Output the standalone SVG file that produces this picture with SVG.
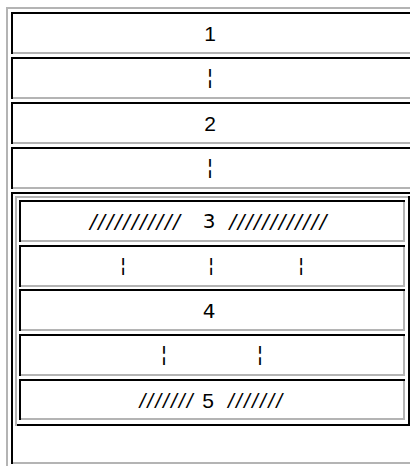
<svg xmlns="http://www.w3.org/2000/svg" width="410" height="466" viewBox="0 0 410 466">
<style>
.lt{fill:#b4b4b4}
.dk{fill:#000}
.a{font-family:"Liberation Sans",Arial,sans-serif;font-size:21px;fill:#000;text-anchor:middle}
.d{font-family:"DejaVu Sans",sans-serif;font-size:20px;fill:#000;text-anchor:middle}
.i{font-style:italic}
</style>
<rect width="410" height="466" fill="#fff"/>
<g id="outer-table">
<rect class="lt" x="6" y="7" width="404" height="2"/>
<rect class="lt" x="6" y="7" width="2" height="459"/>
</g>
<g id="row1">
<rect class="dk" x="11" y="12" width="399" height="2"/>
<rect class="dk" x="11" y="12" width="2" height="42"/>
<rect class="lt" x="13" y="52" width="397" height="2"/>
<text class="a" x="210" y="41">1</text>
</g>
<g id="row2">
<rect class="dk" x="11" y="57" width="399" height="2"/>
<rect class="dk" x="11" y="57" width="2" height="42"/>
<rect class="lt" x="13" y="97" width="397" height="2"/>
<text class="a" x="210" y="84">¦</text>
</g>
<g id="row3">
<rect class="dk" x="11" y="102" width="399" height="2"/>
<rect class="dk" x="11" y="102" width="2" height="42"/>
<rect class="lt" x="13" y="142" width="397" height="2"/>
<text class="a" x="210" y="131">2</text>
</g>
<g id="row4">
<rect class="dk" x="11" y="147" width="399" height="2"/>
<rect class="dk" x="11" y="147" width="2" height="42"/>
<rect class="lt" x="13" y="187" width="397" height="2"/>
<text class="a" x="210" y="174">¦</text>
</g>
<g id="row5">
<rect class="dk" x="11" y="192" width="399" height="2"/>
<rect class="dk" x="11" y="192" width="2" height="272"/>
<rect class="lt" x="13" y="462" width="397" height="2"/>
</g>
<g id="nested-table">
<rect class="lt" x="15" y="196" width="393" height="2"/>
<rect class="lt" x="15" y="196" width="2" height="230"/>
<rect class="dk" x="408" y="196" width="2" height="230"/>
<rect class="dk" x="17" y="424" width="393" height="2"/>
</g>
<g id="n1">
<rect class="dk" x="19" y="200" width="386" height="2"/>
<rect class="dk" x="19" y="200" width="2" height="42"/>
<rect class="lt" x="21" y="240" width="384" height="2"/>
<rect class="lt" x="403" y="202" width="2" height="40"/>
<text class="d i" x="135" y="228" textLength="90" lengthAdjust="spacing">///////////</text>
<text class="d" x="209" y="228">3</text>
<text class="d i" x="278" y="228" textLength="97" lengthAdjust="spacing">////////////</text>
</g>
<g id="n2">
<rect class="dk" x="19" y="245" width="386" height="2"/>
<rect class="dk" x="19" y="245" width="2" height="42"/>
<rect class="lt" x="21" y="285" width="384" height="2"/>
<rect class="lt" x="403" y="247" width="2" height="40"/>
<text class="d" x="123" y="272">¦</text>
<text class="d" x="211" y="272">¦</text>
<text class="d" x="301" y="272">¦</text>
</g>
<g id="n3">
<rect class="dk" x="19" y="289" width="386" height="2"/>
<rect class="dk" x="19" y="289" width="2" height="42"/>
<rect class="lt" x="21" y="329" width="384" height="2"/>
<rect class="lt" x="403" y="291" width="2" height="40"/>
<text class="d" x="209" y="318">4</text>
</g>
<g id="n4">
<rect class="dk" x="19" y="334" width="386" height="2"/>
<rect class="dk" x="19" y="334" width="2" height="42"/>
<rect class="lt" x="21" y="374" width="384" height="2"/>
<rect class="lt" x="403" y="336" width="2" height="40"/>
<text class="a" x="164" y="361">¦</text>
<text class="a" x="260" y="361">¦</text>
</g>
<g id="n5">
<rect class="dk" x="19" y="379" width="386" height="2"/>
<rect class="dk" x="19" y="379" width="2" height="41"/>
<rect class="lt" x="21" y="418" width="384" height="2"/>
<rect class="lt" x="403" y="381" width="2" height="39"/>
<text class="a i" x="166" y="408" textLength="53" lengthAdjust="spacing">///////</text>
<text class="a" x="208" y="408">5</text>
<text class="a i" x="255" y="408" textLength="54" lengthAdjust="spacing">///////</text>
</g>
</svg>
